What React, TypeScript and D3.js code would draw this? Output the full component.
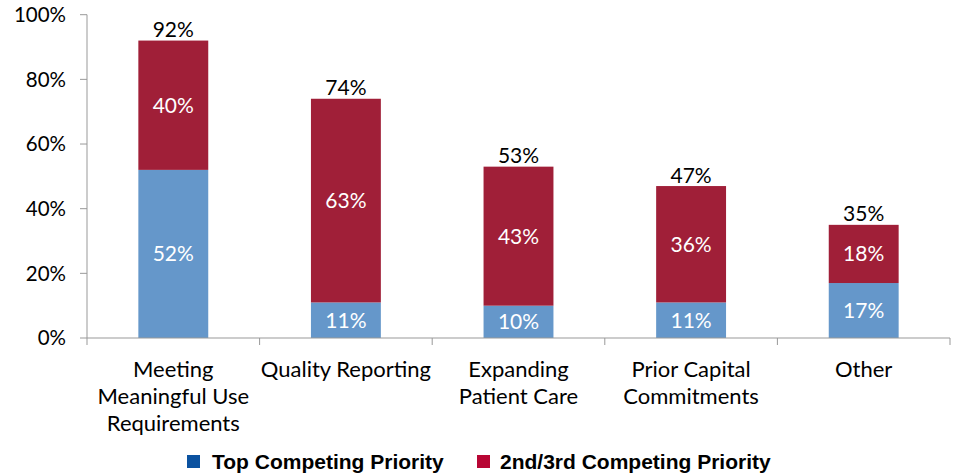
import React from "react";
import * as d3 from "d3";

const categories = [
  ["Meeting", "Meaningful Use", "Requirements"],
  ["Quality Reporting"],
  ["Expanding", "Patient Care"],
  ["Prior Capital", "Commitments"],
  ["Other"],
];
const topValues = [52, 11, 10, 11, 17];
const secondValues = [40, 63, 43, 36, 18];
const totals = [92, 74, 53, 47, 35];
const yTicks = [0, 20, 40, 60, 80, 100];
const seriesNames = ["Top Competing Priority", "2nd/3rd Competing Priority"];

const W = 954;
const H = 476;
const left = 87;
const right = 950;
const top = 14.7;
const bottom = 338;
const font = "Lato, 'Open Sans', sans-serif";
const legendFont = "'Liberation Sans', Arial, sans-serif";
const barBlue = "#6597CA";
const barRed = "#A01F38";
const legBlue = "#0B52A0";
const legRed = "#B80634";

export default function App() {
  const x = d3
    .scaleBand<number>()
    .domain(categories.map((_, i) => i))
    .range([left, right])
    .paddingInner(0.595)
    .paddingOuter(0.2975);
  const y = d3.scaleLinear().domain([0, 100]).range([bottom, top]);
  const step = x.step();

  return (
    <svg width={W} height={H} style={{ display: "block", position: "absolute", left: 0, top: 0 }}>
      <rect width={W} height={H} fill="#fff" />
      {/* y axis */}
      <line x1={left} x2={left} y1={top} y2={bottom} stroke="#999" strokeWidth={1} />
      {yTicks.map((t) => (
        <g key={t}>
          <line x1={left - 7} x2={left} y1={y(t)} y2={y(t)} stroke="#999" />
          <text x={66} y={y(t)} dy="0.35em" textAnchor="end" fontFamily={font} fontSize={20.5} fill="#000">
            {t}%
          </text>
        </g>
      ))}
      {/* bars */}
      {categories.map((_, i) => {
        const bx = x(i)!;
        const bw = x.bandwidth();
        const cx = bx + bw / 2;
        const b0 = y(0);
        const b1 = y(topValues[i]);
        const b2 = y(totals[i]);
        return (
          <g key={i}>
            <rect x={bx} y={b1} width={bw} height={b0 - b1} fill={barBlue} />
            <rect x={bx} y={b2} width={bw} height={b1 - b2} fill={barRed} />
            <text x={cx} y={(b0 + b1) / 2} dy="0.35em" textAnchor="middle" fontFamily={font} fontSize={21} fill="#fff">
              {topValues[i]}%
            </text>
            <text x={cx} y={(b1 + b2) / 2} dy="0.35em" textAnchor="middle" fontFamily={font} fontSize={21} fill="#fff">
              {secondValues[i]}%
            </text>
            <text x={cx} y={b2 - 3.5} textAnchor="middle" fontFamily={font} fontSize={21} fill="#000">
              {totals[i]}%
            </text>
          </g>
        );
      })}
      {/* x axis */}
      <line x1={left} x2={right} y1={bottom} y2={bottom} stroke="#999" />
      {categories.map((_, i) => (
        <line key={i} x1={left + step * (i + 1)} x2={left + step * (i + 1)} y1={bottom} y2={bottom + 7} stroke="#999" />
      ))}
      <line x1={left} x2={left} y1={bottom} y2={bottom + 7} stroke="#999" />
      {categories.map((lines, i) => (
        <text key={i} textAnchor="middle" fontFamily={font} fontSize={22} fill="#000">
          {lines.map((l, j) => (
            <tspan key={j} x={x(i)! + x.bandwidth() / 2} y={377 + j * 27}>
              {l}
            </tspan>
          ))}
        </text>
      ))}
      {/* legend */}
      <rect x={187} y={455} width={13} height={13} fill={legBlue} />
      <text x={212} y={469} fontFamily={legendFont} fontWeight="bold" fontSize={21} fill="#000">
        {seriesNames[0]}
      </text>
      <rect x={477} y={455} width={13} height={13} fill={legRed} />
      <text x={500} y={469} fontFamily={legendFont} fontWeight="bold" fontSize={21} fill="#000">
        {seriesNames[1]}
      </text>
    </svg>
  );
}
